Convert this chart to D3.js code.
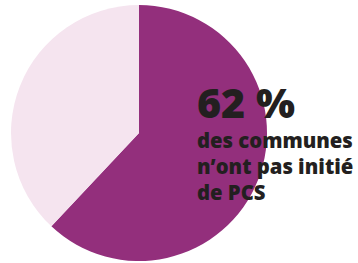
<!DOCTYPE html>
<html><head><meta charset="utf-8">
<script src="https://cdn.jsdelivr.net/npm/d3@7"></script>
<style>html,body{margin:0;padding:0;background:#fff;}svg{display:block;}</style>
</head><body>
<svg id="chart" width="358" height="263"></svg>
<script>
const categories = ["n'ont pas initié de PCS", "ont initié un PCS"];
const values = [62, 38];
const colors = ["#932f7c", "#f5e4ef"];
const headline = "62 %";
const labelLines = ["des communes", "n’ont pas initié", "de PCS"];

const svg = d3.select("#chart");
const cx = 139, cy = 133, r = 128;
const pie = d3.pie().sort(null).value(d => d)(values);
const arc = d3.arc().innerRadius(0).outerRadius(r);
const g = svg.append("g").attr("transform", `translate(${cx},${cy})`);
g.selectAll("path").data(pie).join("path")
  .attr("d", arc).attr("fill", (d, i) => colors[i]);

const tx = 197;
const font = "'Open Sans', sans-serif";
const h = svg.append("text").attr("x", tx).attr("y", 118)
  .attr("font-family", font).attr("font-weight", 800).attr("font-size", 36)
  .attr("fill", "#231f20").text(headline);
// fit headline width to ~98px
let hw = h.node().getComputedTextLength();
h.attr("font-size", 36 * 98 / hw);
const lines = svg.selectAll("text.l").data(labelLines).join("text").attr("class", "l")
  .attr("x", tx).attr("y", (d, i) => 148 + i * 26)
  .attr("font-family", font).attr("font-weight", 800).attr("font-size", 18)
  .attr("fill", "#231f20").text(d => d);
const w0 = lines.node().getComputedTextLength();
lines.attr("font-size", 18 * 156 / w0);
</script>
</body></html>
